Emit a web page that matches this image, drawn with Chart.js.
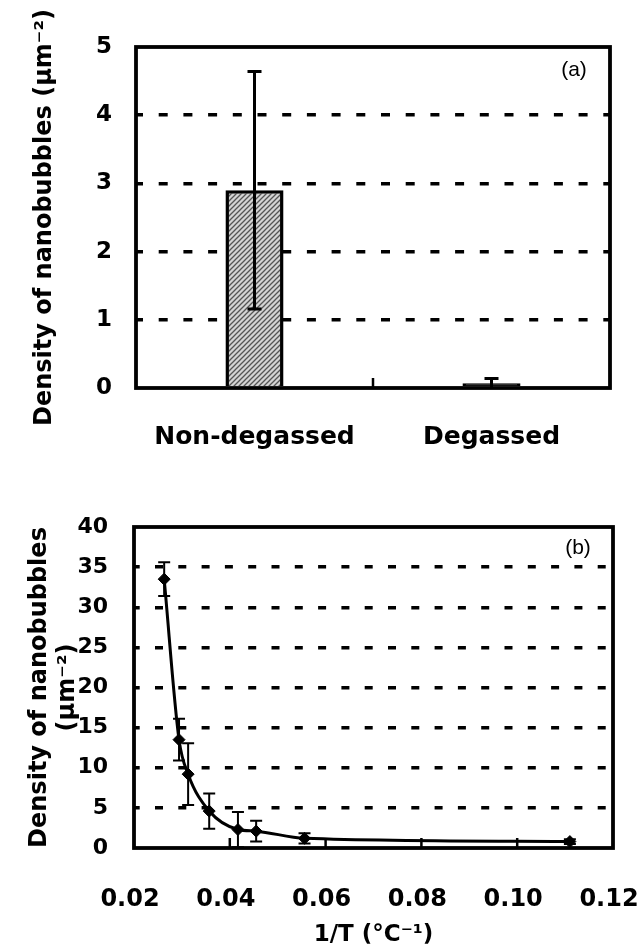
<!DOCTYPE html>
<html>
<head>
<meta charset="utf-8">
<script src="https://cdn.jsdelivr.net/npm/chart.js@4.4.1/dist/chart.umd.min.js"></script>
<style>
  html, body { margin: 0; padding: 0; background: #fff; }
  #wrapA { position: absolute; left: 0; top: 0; width: 641px; height: 470px; }
  #wrapB { position: absolute; left: 0; top: 470px; width: 641px; height: 479px; }
</style>
</head>
<body>
<div id="wrapA"><canvas id="chartA" width="641" height="470"></canvas></div>
<div id="wrapB"><canvas id="chartB" width="641" height="479"></canvas></div>
<script>
// (a) densidad segun desgasificado
const gasCategories = ['Non-degassed', 'Degassed'];
const gasDensity = [2.9, 0.07];
const gasError = [1.74, 0.07];
const gasTicks = [0, 1, 2, 3, 4, 5];

// (b) densidad vs 1/T
const invTemp = [0.0263, 0.0294, 0.0313, 0.0357, 0.0417, 0.0455, 0.0556, 0.111];
const tempDensity = [33.5, 13.5, 9.2, 4.6, 2.3, 2.1, 1.2, 0.8];
const tempError = [2.1, 2.6, 3.85, 2.2, 2.2, 1.3, 0.65, 0.3];
const invTempTicks = [0.02, 0.04, 0.06, 0.08, 0.10, 0.12];
const tempDensityTicks = [0, 5, 10, 15, 20, 25, 30, 35, 40];

Chart.defaults.font.family = 'DejaVu Sans';
Chart.defaults.color = '#000';

const boldFont = size => ({ family: 'DejaVu Sans', size: size, weight: 'bold' });

// relleno rayado de la barra
const hatchCanvas = document.createElement('canvas');
hatchCanvas.width = 5;
hatchCanvas.height = 5;
const hc = hatchCanvas.getContext('2d');
hc.fillStyle = '#d4d4d4';
hc.fillRect(0, 0, 5, 5);
hc.strokeStyle = '#555';
hc.lineWidth = 1.3;
hc.beginPath();
hc.moveTo(0, 5); hc.lineTo(5, 0);
hc.moveTo(-1, 1); hc.lineTo(1, -1);
hc.moveTo(4, 6); hc.lineTo(6, 4);
hc.stroke();
const hatch = document.getElementById('chartA').getContext('2d').createPattern(hatchCanvas, 'repeat');

// marco, barras de error, ticks internos y etiqueta
const framePlugin = {
  id: 'frame',
  afterDatasetsDraw(chart, args, opts) {
    const { ctx, chartArea: a } = chart;
    const xs = chart.scales.x;
    const ys = chart.scales.y;
    ctx.save();
    ctx.strokeStyle = '#000';
    ctx.lineCap = 'butt';

    chart.data.datasets.forEach((ds, i) => {
      if (!ds.errors) return;
      const meta = chart.getDatasetMeta(i);
      ctx.lineWidth = opts.errWidth;
      meta.data.forEach((el, j) => {
        const raw = ds.data[j];
        const val = typeof raw === 'object' ? raw.y : raw;
        const top = ys.getPixelForValue(val + ds.errors[j]);
        const bot = ys.getPixelForValue(Math.max(val - ds.errors[j], 0));
        const x = el.x;
        ctx.beginPath();
        ctx.moveTo(x, top); ctx.lineTo(x, bot);
        ctx.moveTo(x - opts.cap, top); ctx.lineTo(x + opts.cap, top);
        if (val - ds.errors[j] > 0.05) {
          ctx.moveTo(x - opts.cap, bot); ctx.lineTo(x + opts.cap, bot);
        }
        ctx.stroke();
      });
    });

    ctx.lineWidth = 2.5;
    opts.innerTicks.forEach(v => {
      const x = xs.getPixelForValue(v);
      ctx.beginPath();
      ctx.moveTo(x, a.bottom);
      ctx.lineTo(x, a.bottom - 10);
      ctx.stroke();
    });

    ctx.lineWidth = 3.8;
    ctx.strokeRect(a.left, a.top, a.right - a.left, a.bottom - a.top);

    ctx.fillStyle = '#000';
    ctx.font = '21px "Liberation Sans"';
    ctx.textAlign = 'center';
    ctx.textBaseline = 'middle';
    ctx.fillText(opts.tag, a.right - opts.tagDx, a.top + opts.tagDy);
    ctx.restore();
  }
};

const chartA = new Chart(document.getElementById('chartA'), {
  type: 'bar',
  data: {
    labels: gasCategories,
    datasets: [{
      data: gasDensity,
      errors: gasError,
      backgroundColor: [hatch, '#111'],
      borderColor: '#000',
      borderWidth: 3.5,
      barPercentage: 0.245,
      categoryPercentage: 1
    }]
  },
  options: {
    responsive: false,
    animation: false,
    devicePixelRatio: 1,
    layout: { padding: { top: 47, right: 31, bottom: 0, left: 0 } },
    plugins: {
      legend: { display: false },
      tooltip: { enabled: false },
      frame: { errWidth: 3, cap: 7, innerTicks: [0.5], tag: '(a)', tagDx: 36, tagDy: 23 }
    },
    scales: {
      x: {
        type: 'category',
        offset: true,
        grid: { display: false, drawTicks: false },
        border: { display: false },
        ticks: { color: '#000', font: boldFont(25), padding: 34 },
        afterFit: s => { s.height = 82; s.paddingLeft = 0; s.paddingRight = 0; }
      },
      y: {
        min: 0,
        max: 5,
        afterBuildTicks: s => { s.ticks = gasTicks.map(v => ({ value: v })); },
        grid: {
          drawTicks: false,
          lineWidth: 3.5,
          color: c => (c.tick && (c.tick.value === 0 || c.tick.value === 5)) ? 'rgba(0,0,0,0)' : '#000'
        },
        border: { display: false, dash: [9, 15.7], dashOffset: 2 },
        ticks: { color: '#000', font: boldFont(23), padding: 24 },
        title: {
          display: true,
          text: 'Density of nanobubbles (μm⁻²)',
          color: '#000',
          font: boldFont(24),
          padding: { top: 30, bottom: 0 }
        },
        afterFit: s => { s.width = 136; s.paddingTop = 0; s.paddingBottom = 0; }
      }
    }
  },
  plugins: [framePlugin]
});

const chartB = new Chart(document.getElementById('chartB'), {
  type: 'line',
  data: {
    datasets: [{
      data: invTemp.map((x, i) => ({ x: x, y: tempDensity[i] })),
      errors: tempError,
      borderColor: '#000',
      borderWidth: 3,
      cubicInterpolationMode: 'monotone',
      pointStyle: 'rectRot',
      pointRadius: 6,
      pointBackgroundColor: '#000',
      pointBorderColor: '#000',
      pointBorderWidth: 1
    }]
  },
  options: {
    responsive: false,
    animation: false,
    devicePixelRatio: 1,
    layout: { padding: { top: 57, right: 28, bottom: 0, left: 0 } },
    plugins: {
      legend: { display: false },
      tooltip: { enabled: false },
      frame: { errWidth: 2, cap: 6, innerTicks: [0.04, 0.06, 0.08, 0.10], tag: '(b)', tagDx: 35, tagDy: 21 }
    },
    scales: {
      x: {
        type: 'linear',
        min: 0.02,
        max: 0.12,
        afterBuildTicks: s => { s.ticks = invTempTicks.map(v => ({ value: v })); },
        grid: { display: false, drawTicks: false },
        border: { display: false },
        ticks: { color: '#000', font: boldFont(24), padding: 37, labelOffset: -4, callback: v => v.toFixed(2) },
        title: {
          display: true,
          text: '1/T (°C⁻¹)',
          color: '#000',
          font: boldFont(23),
          padding: { top: 0, bottom: 0 }
        },
        afterFit: s => { s.height = 101; s.paddingLeft = 0; s.paddingRight = 0; }
      },
      y: {
        min: 0,
        max: 40,
        afterBuildTicks: s => { s.ticks = tempDensityTicks.map(v => ({ value: v })); },
        grid: {
          drawTicks: false,
          lineWidth: 3.5,
          color: c => (c.tick && (c.tick.value === 0 || c.tick.value === 40)) ? 'rgba(0,0,0,0)' : '#000'
        },
        border: { display: false, dash: [8, 15.3], dashOffset: 2.3 },
        ticks: { color: '#000', font: boldFont(22), padding: 26 },
        title: {
          display: true,
          text: ['Density of nanobubbles', '(μm⁻²)'],
          color: '#000',
          font: { family: 'DejaVu Sans', size: 24, weight: 'bold', lineHeight: 1.15 },
          padding: { top: 26, bottom: 0 }
        },
        afterFit: s => { s.width = 134; s.paddingTop = 0; s.paddingBottom = 0; }
      }
    }
  },
  plugins: [framePlugin]
});
</script>
</body>
</html>
